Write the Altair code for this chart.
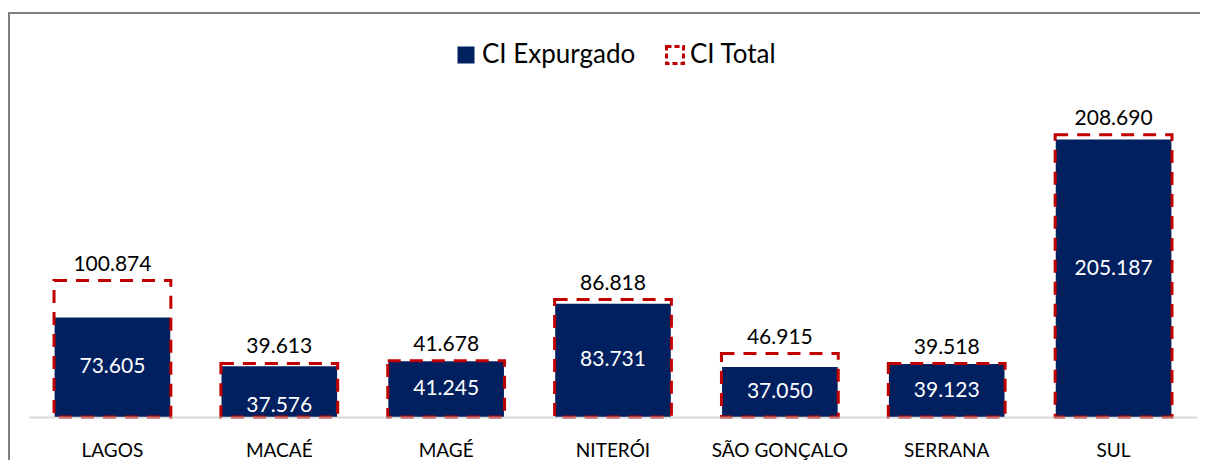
import altair as alt
import pandas as pd

categories = ["LAGOS", "MACAÉ", "MAGÉ", "NITERÓI", "SÃO GONÇALO", "SERRANA", "SUL"]
ci_expurgado = [73605, 37576, 41245, 83731, 37050, 39123, 205187]
ci_total = [100874, 39613, 41678, 86818, 46915, 39518, 208690]
exp_name = ["CI Expurgado"]
tot_name = ["CI Total"]
exp_color = ["#002060"]
tot_color = ["#c00000"]


def fmt(v):
    return f"{v:,}".replace(",", ".")


df = pd.DataFrame({
    "regiao": categories,
    "exp": ci_expurgado,
    "tot": ci_total,
    "exp_lbl": [fmt(v) for v in ci_expurgado],
    "tot_lbl": [fmt(v) for v in ci_total],
})

FONT = "Lato"

xenc = alt.X(
    "regiao:N",
    sort=categories,
    title=None,
    scale=alt.Scale(paddingInner=0, paddingOuter=0),
    axis=alt.Axis(
        labelAngle=0, ticks=False, tickSize=0, domainColor="#bfbfbf",
        domainOpacity=0.6, domainWidth=2, labelFont=FONT, labelFontSize=19,
        labelColor="#000000", labelPadding=24, grid=False, zindex=1,
    ),
)
yscale = alt.Scale(domain=[0, 230000])

legend_common = dict(
    title=None, orient="none", direction="horizontal",
    labelFont=FONT, labelFontSize=26, labelColor="#000000", symbolSize=289,
    symbolType="square", padding=0, symbolOpacity=1,
)
fill_legend = alt.Legend(legendX=424, legendY=-64, symbolStrokeWidth=0,
                         labelOffset=3, **legend_common)
stroke_legend = alt.Legend(
    legendX=633, legendY=-64, symbolStrokeWidth=3, symbolDash=[5, 3],
    symbolFillColor="transparent", labelOffset=2, **legend_common
)

base = alt.Chart(df)
one = alt.Chart(pd.DataFrame({"k": [0]}))

frame_top = one.mark_rule(color="#7f7f7f", strokeWidth=2).encode(
    x=alt.value(-21), x2=alt.value(1200), y=alt.value(-93)
)
frame_left = one.mark_rule(color="#7f7f7f", strokeWidth=2).encode(
    x=alt.value(-20), y=alt.value(-94), y2=alt.value(400)
)

blue = base.transform_calculate(serie="'CI Expurgado'").mark_bar(
    width=alt.RelativeBandSize(0.693)
).encode(
    x=xenc,
    y=alt.Y("exp:Q", scale=yscale, axis=None),
    fill=alt.Fill("serie:N", scale=alt.Scale(domain=exp_name, range=exp_color), legend=fill_legend),
)

total = base.transform_calculate(serie="'CI Total'").mark_bar(
    fill="transparent", strokeWidth=3, strokeDash=[13, 9],
    width=alt.RelativeBandSize(0.70),
).encode(
    x=xenc,
    y=alt.Y("tot:Q", scale=yscale, axis=None),
    stroke=alt.Stroke("serie:N", scale=alt.Scale(domain=tot_name, range=tot_color), legend=stroke_legend),
)

tot_labels = base.mark_text(
    font=FONT, fontSize=21, color="#000000", baseline="alphabetic", dy=-10
).encode(
    x=xenc, y=alt.Y("tot:Q", scale=yscale), text="tot_lbl:N"
)

inner = base.transform_calculate(mid="datum.exp / 2")

exp_labels = inner.transform_filter(
    "datum.regiao !== 'MACAÉ' && datum.regiao !== 'SUL'"
).mark_text(
    font=FONT, fontSize=21, color="#ffffff", baseline="middle"
).encode(x=xenc, y=alt.Y("mid:Q", scale=yscale), text="exp_lbl:N")

exp_label_macae = inner.transform_filter("datum.regiao === 'MACAÉ'").mark_text(
    font=FONT, fontSize=21, color="#ffffff", baseline="middle", dy=14
).encode(x=xenc, y=alt.Y("mid:Q", scale=yscale), text="exp_lbl:N")

exp_label_sul = inner.transform_filter("datum.regiao === 'SUL'").mark_text(
    font=FONT, fontSize=21, color="#ffffff", baseline="middle", dy=-9
).encode(x=xenc, y=alt.Y("mid:Q", scale=yscale), text="exp_lbl:N")

chart = alt.layer(
    frame_top, frame_left, blue, total, tot_labels, exp_labels,
    exp_label_macae, exp_label_sul
).resolve_scale(fill="independent", stroke="independent").properties(
    width=1168, height=311,
    background="white",
    autosize=alt.AutoSizeParams(type="none"),
    padding={"left": 21, "top": 98, "right": 3, "bottom": 43},
).configure_view(stroke="transparent", strokeWidth=0)

chart.save("out.html", embed_options={"renderer": "svg", "actions": False})
